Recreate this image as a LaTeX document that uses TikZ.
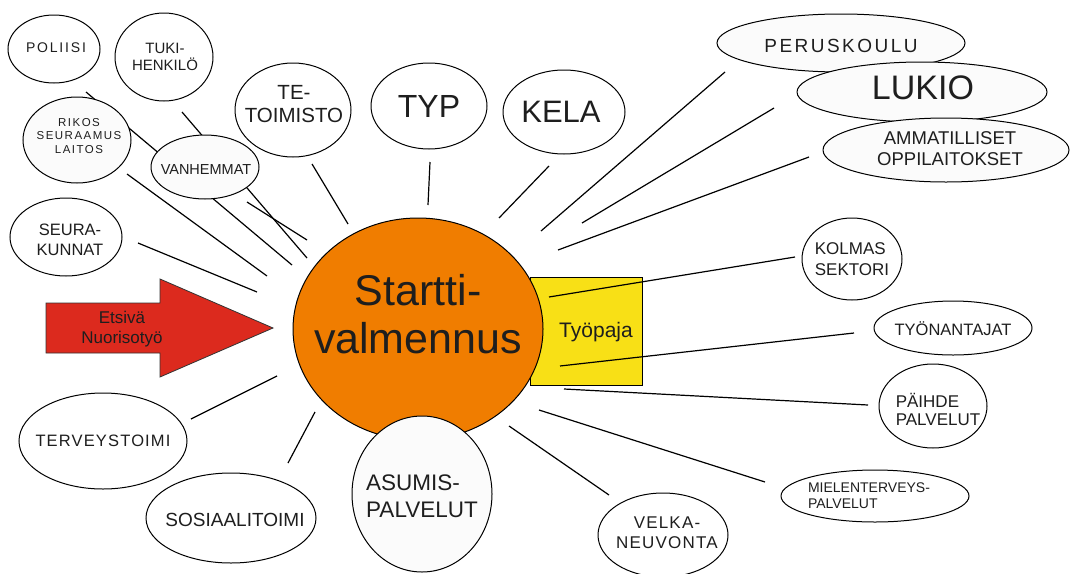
\documentclass[tikz,border=0pt]{standalone}
\usepackage{fontspec}
\setmainfont{Liberation Sans}
\newfontfamily\spcA[LetterSpace=13]{Liberation Sans}
\newfontfamily\spcB[LetterSpace=7]{Liberation Sans}
\usetikzlibrary{shapes.geometric}
\definecolor{orng}{RGB}{240,125,0}
\definecolor{ylw}{RGB}{248,224,22}
\definecolor{rd}{RGB}{220,42,30}
\definecolor{txt}{RGB}{30,30,30}
\definecolor{pale}{RGB}{251,251,251}
\newcommand\fsz[2]{\fontsize{#1}{#2}\selectfont}
\begin{document}
\begin{tikzpicture}[x=1pt,y=-1pt,
  bub/.style={ellipse, draw=black, line width=1pt, fill=white, inner sep=0pt},
  lbl/.style={text=txt, inner sep=0pt, align=center},
  link/.style={line width=1.2pt, draw=black},
  er/.style 2 args={minimum width=#1pt, minimum height=#2pt}]
\useasboundingbox (0,0) rectangle (1070,573);
\fill[white] (0,0) rectangle (1070,573);

% workshop box and central ellipse
\node[draw=black, line width=1pt, fill=ylw, minimum width=112pt, minimum height=108pt, inner sep=0pt, anchor=north west] (tyopaja) at (530,277) {};
\node[lbl, font=\fsz{21}{24}] (tyopajat) at (596,332) {Työpaja};
\node[ellipse, draw=black, line width=1pt, fill=orng, er={250}{222}, inner sep=0pt] (startti) at (418,329) {};
\node[lbl, font=\fsz{43}{48}] (starttit) at (418,314) {Startti-\\valmennus};

% connector end points
\coordinate (p1) at (86,92);   \coordinate (p2) at (292,265);
\coordinate (t1) at (182,112); \coordinate (t2) at (307,258);
\coordinate (v1) at (247,202); \coordinate (v2) at (307,240);
\coordinate (r1) at (127,174); \coordinate (r2) at (267,276);
\coordinate (s1) at (138,243); \coordinate (s2) at (257,292);
\coordinate (te1) at (312,164); \coordinate (te2) at (348,224);
\coordinate (ty1) at (430,162); \coordinate (ty2) at (428,205);
\coordinate (k1) at (549,166); \coordinate (k2) at (499,218);
\coordinate (pe1) at (725,72); \coordinate (pe2) at (541,231);
\coordinate (l1) at (774,108); \coordinate (l2) at (582,223);
\coordinate (a1) at (809,157); \coordinate (a2) at (558,250);
\coordinate (ko1) at (795,257); \coordinate (ko2) at (549,297);
\coordinate (tn1) at (854,333); \coordinate (tn2) at (560,366);
\coordinate (pa1) at (868,405); \coordinate (pa2) at (564,389);
\coordinate (m1) at (765,482); \coordinate (m2) at (539,410);
\coordinate (ve1) at (609,495); \coordinate (ve2) at (509,426);
\coordinate (so1) at (288,463); \coordinate (so2) at (315,412);
\coordinate (tr1) at (191,419); \coordinate (tr2) at (277,376);

\foreach \a/\b in {p1/p2,t1/t2,v1/v2,r1/r2,s1/s2,te1/te2,ty1/ty2,k1/k2,pe1/pe2,l1/l2,a1/a2,ko1/ko2,tn1/tn2,pa1/pa2,m1/m2,ve1/ve2,so1/so2,tr1/tr2}
  \draw[link] (\a) -- (\b);

% bubbles
\node[bub, er={92}{68}] (poliisi) at (54,49) {};
\node[lbl, font=\spcA\fsz{14}{16}] (poliisit) at (56,48) {POLIISI};
\node[bub, er={98}{88}] (tuki) at (164,57) {};
\node[lbl, font=\fsz{15}{17.5}] (tukit) at (165,57) {TUKI-\\HENKILÖ};
\node[bub, er={116}{94}] (te) at (293,110) {};
\node[lbl, font=\fsz{20.5}{23}] (tet) at (294,104) {TE-\\TOIMISTO};
\node[bub, er={116}{86}] (typ) at (429,106) {};
\node[lbl, font=\fsz{32}{36}] (typt) at (429,106) {TYP};
\node[bub, er={122}{84}] (kela) at (564,112) {};
\node[lbl, font=\fsz{31}{36}] (kelat) at (561,112) {KELA};
\node[bub, fill=pale, er={108}{86}] (rikos) at (77,140) {};
\node[lbl, font=\spcA\fsz{11.5}{13.5}] (rikost) at (79,136) {RIKOS\\SEURAAMUS\\LAITOS};
\node[bub, fill=pale, er={108}{64}] (vanh) at (205,167) {};
\node[lbl, font=\fsz{14.5}{17}] (vanht) at (206,170) {VANHEMMAT};
\node[bub, er={112}{78}] (seura) at (66,237) {};
\node[lbl, font=\fsz{16.5}{20}] (seurat) at (70,240) {SEURA-\\KUNNAT};
\node[bub, fill=pale, er={248}{58}] (perus) at (841,43) {};
\node[lbl, font=\spcA\fsz{19}{22}] (perust) at (841,46) {PERUSKOULU};
\node[bub, fill=pale, er={250}{60}] (lukio) at (922,92) {};
\node[lbl, font=\fsz{34}{38}] (lukiot) at (923,88) {LUKIO};
\node[bub, fill=pale, er={246}{64}] (ammat) at (946,150) {};
\node[lbl, font=\fsz{18.5}{21}] (ammatt) at (950,149) {AMMATILLISET\\OPPILAITOKSET};
\node[bub, er={100}{82}] (kolmas) at (852,259) {};
\node[lbl, align=left, font=\fsz{17}{21}] (kolmast) at (852,259) {KOLMAS\\SEKTORI};
\node[bub, er={158}{54}] (tyon) at (953,328) {};
\node[lbl, font=\fsz{16.5}{19}] (tyont) at (953,329) {TYÖNANTAJAT};
\node[bub, er={108}{84}] (paihde) at (933,406) {};
\node[lbl, align=left, font=\fsz{17}{18}] (paihdet) at (938,409) {PÄIHDE\\PALVELUT};
\node[bub, er={188}{52}] (mielen) at (875,496) {};
\node[lbl, align=left, font=\fsz{14}{16}] (mielent) at (869,496) {MIELENTERVEYS-\\PALVELUT};
\node[bub, er={130}{84}] (velka) at (663,535) {};
\node[lbl, font=\spcB\fsz{17}{20}] (velkat) at (667,533) {VELKA-\\NEUVONTA};
\node[bub, fill=pale, er={140}{156}] (asumis) at (422,494) {};
\node[lbl, align=left, font=\fsz{22.5}{27}] (asumist) at (422,496) {ASUMIS-\\PALVELUT};
\node[bub, er={170}{90}] (sosiaali) at (231,518) {};
\node[lbl, font=\fsz{19}{22}] (sosiaalit) at (235,520) {SOSIAALITOIMI};
\node[bub, er={168}{96}] (terveys) at (103,441) {};
\node[lbl, font=\spcB\fsz{16.5}{20}] (terveyst) at (103,441) {TERVEYSTOIMI};

% arrow
\draw[fill=rd, draw=black!80, line width=0.8pt] (46,303) -- (160,303) -- (160,279) -- (273,328) -- (160,377) -- (160,353) -- (46,353) -- cycle;
\node[lbl, font=\fsz{17}{20}] (etsiva) at (122,329) {Etsivä\\Nuorisotyö};
\end{tikzpicture}
\end{document}
